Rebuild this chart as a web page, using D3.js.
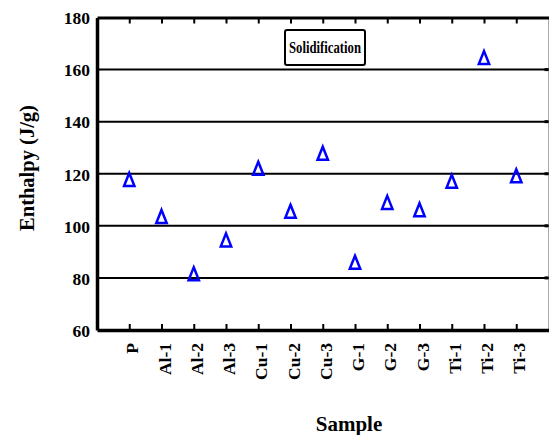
<!DOCTYPE html>
<html lang="en">
<head>
  <meta charset="UTF-8">
  <title>Solidification Enthalpy</title>
  <script src="https://d3js.org/d3.v7.min.js"></script>
  <style>
    body { margin: 0; background: #fff; }
    svg text { font-family: "Liberation Serif", "Times New Roman", Times, serif !important; font-weight: bold; fill: #000; }
  </style>
</head>
<body>
  <div id="chart"></div>
  <script>
    // data
    const samples = ["P", "Al-1", "Al-2", "Al-3", "Cu-1", "Cu-2", "Cu-3", "G-1", "G-2", "G-3", "Ti-1", "Ti-2", "Ti-3"];
    const enthalpy = [117.8, 103.6, 81.6, 94.6, 122.1, 105.6, 127.9, 86.0, 109.0, 106.2, 117.1, 164.6, 119.2];
    const yTicks = [60, 80, 100, 120, 140, 160, 180];
    const gridValues = [80, 100, 120, 140, 160];

    const W = 550, H = 435;
    const margin = { top: 17.5, right: 1.5, bottom: 105, left: 97 };

    const svg = d3.select("#chart").append("svg")
      .attr("width", W)
      .attr("height", H)
      .attr("font-family", "Liberation Serif, serif");

    const x = d3.scalePoint()
      .domain(samples)
      .range([margin.left, W - margin.right])
      .padding(1);

    const y = d3.scaleLinear()
      .domain([60, 180])
      .range([H - margin.bottom, margin.top]);

    const x0 = margin.left, x1 = W - margin.right;
    const y0 = H - margin.bottom, y1 = margin.top;

    // right frame edge (thin grey)
    svg.append("line")
      .attr("x1", x1).attr("x2", x1)
      .attr("y1", y1).attr("y2", y0)
      .attr("stroke", "#aaa").attr("stroke-width", 1);

    // horizontal grid lines
    svg.selectAll(".grid")
      .data(gridValues)
      .enter().append("line")
      .attr("class", "grid")
      .attr("x1", x0).attr("x2", x1)
      .attr("y1", d => y(d)).attr("y2", d => y(d))
      .attr("stroke", "#000").attr("stroke-width", 2);

    // small right-side ticks
    svg.selectAll(".rtick")
      .data(gridValues)
      .enter().append("line")
      .attr("x1", x1 - 4).attr("x2", x1)
      .attr("y1", d => y(d)).attr("y2", d => y(d))
      .attr("stroke", "#000").attr("stroke-width", 3);

    // top border with inward ticks
    const topAxis = svg.append("g")
      .attr("transform", `translate(0,${y1})`)
      .call(d3.axisBottom(x).tickSize(6).tickSizeOuter(0).tickFormat(""));
    topAxis.select(".domain").attr("stroke-width", 3);
    topAxis.selectAll(".tick line").attr("stroke-width", 2);

    // bottom axis with inward ticks
    const bottomAxis = svg.append("g")
      .attr("transform", `translate(0,${y0})`)
      .call(d3.axisTop(x).tickSize(6).tickSizeOuter(0).tickFormat(""));
    bottomAxis.select(".domain").attr("stroke-width", 3.5);
    bottomAxis.selectAll(".tick line").attr("stroke-width", 2);

    // bottom tick labels, rotated
    svg.selectAll(".xlab")
      .data(samples)
      .enter().append("text")
      .attr("class", "xlab")
      .attr("transform", d => `translate(${x(d) + 9},${y0 + 13}) rotate(-90)`)
      .attr("text-anchor", "end")
      .attr("font-size", "17.5px")
      .text(d => d);

    // left axis
    const leftAxis = svg.append("g")
      .attr("transform", `translate(${x0},0)`)
      .call(d3.axisLeft(y).tickValues(yTicks).tickSize(0).tickPadding(7).tickSizeOuter(0));
    leftAxis.attr("font-family", "Liberation Serif, serif");
    leftAxis.select(".domain").attr("stroke-width", 3.5);
    leftAxis.selectAll(".tick text")
      .attr("font-size", "17.5px")
      .attr("dy", "0.36em");

    // open triangle marker, a bit taller than equilateral like the original
    const tallTriangle = {
      draw(ctx, size) {
        const h = Math.sqrt(size) * 1.3, w = h * 0.8;
        ctx.moveTo(0, -h / 2);
        ctx.lineTo(w / 2, h / 2);
        ctx.lineTo(-w / 2, h / 2);
        ctx.closePath();
      }
    };
    const tri = d3.symbol().type(tallTriangle).size(100);
    svg.selectAll(".pt")
      .data(enthalpy)
      .enter().append("path")
      .attr("class", "pt")
      .attr("transform", (d, i) => `translate(${x(samples[i])},${y(d)})`)
      .attr("d", tri)
      .attr("fill", "none")
      .attr("stroke", "#0000ff")
      .attr("stroke-width", 2.5);

    // legend box
    const lg = svg.append("g").attr("transform", "translate(285,30)");
    lg.append("rect")
      .attr("width", 80).attr("height", 35)
      .attr("rx", 2)
      .attr("fill", "#fff").attr("stroke", "#000").attr("stroke-width", 2);
    lg.append("text")
      .attr("x", 40).attr("y", 23)
      .attr("text-anchor", "middle")
      .attr("font-size", "16px")
      .attr("textLength", 72)
      .attr("lengthAdjust", "spacingAndGlyphs")
      .text("Solidification");

    // axis titles
    svg.append("text")
      .attr("x", 349).attr("y", 431)
      .attr("text-anchor", "middle")
      .attr("font-size", "21px")
      .text("Sample");

    svg.append("text")
      .attr("transform", `translate(34,168) rotate(-90)`)
      .attr("text-anchor", "middle")
      .attr("font-size", "20.5px")
      .text("Enthalpy (J/g)");
  </script>
</body>
</html>
